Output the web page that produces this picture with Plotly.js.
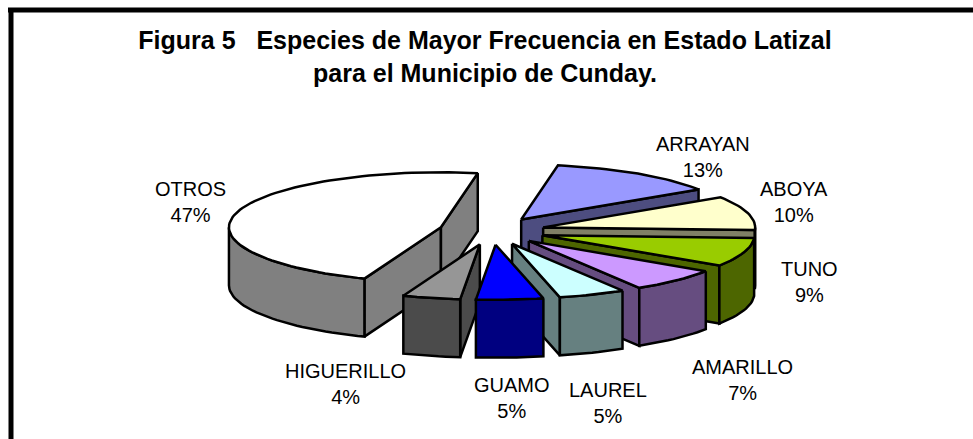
<!DOCTYPE html>
<html>
<head>
<meta charset="utf-8">
<script src="https://cdn.plot.ly/plotly-3.0.1.min.js"></script>
<style>
    html, body { margin: 0; padding: 0; background: #fff; }
    #chart { width: 973px; height: 439px; }
</style>
</head>
<body>
<div id="chart"></div>
<script>
// Chart values, in the order the slices run clockwise from the back.
// Decimals, labels show them rounded.
const labels = ['ARRAYAN', 'ABOYA', 'TUNO', 'AMARILLO', 'LAUREL', 'GUAMO', 'HIGUERILLO', 'OTROS'];
const values = [13, 10, 8.5, 7, 5.1, 5.1, 4.4, 46.9];
const topColors = ['#9999ff', '#ffffcc', '#99cc00', '#cc99ff', '#ccffff', '#0000ff', '#969696', '#ffffff'];
const wallColors = ['#4d4d80', '#808066', '#4d6600', '#664d80', '#668080', '#000080', '#4b4b4b', '#808080'];

// Label centres in pixels
const labelX = [703, 794, 809, 742, 608, 512, 345, 190];
const labelY = [157, 202, 282, 380, 403, 398, 384, 202];

// Projection of the tilted pie, in pixels
const centerX = 492;
const centerY = 231;
const radiusX = 212;
const radiusY = 55;
const depth = 58;
const explode = 0.25;
const firstAngle = 80;

function rad(deg) {
    return deg * Math.PI / 180;
}

// Point on the top rim of a pie whose apex is at (ax, ay)
function rim(ax, ay, deg) {
    return [ax + radiusX * Math.cos(rad(deg)), ay - radiusY * Math.sin(rad(deg))];
}

// Sample the rim between two angles, from -> to
function arcPoints(ax, ay, from, to) {
    const steps = Math.max(2, Math.ceil(Math.abs(to - from) / 2));
    const pts = [];
    for (let i = 0; i <= steps; i++) {
        pts.push(rim(ax, ay, from + (to - from) * i / steps));
    }
    return pts;
}

function polygonTrace(pts, color) {
    const closed = pts.concat([pts[0]]);
    return {
        x: closed.map(p => p[0]),
        y: closed.map(p => p[1]),
        type: 'scatter',
        mode: 'lines',
        fill: 'toself',
        fillcolor: color,
        line: { color: '#000000', width: 2.5, shape: 'linear' },
        hoverinfo: 'skip',
        showlegend: false
    };
}

// Walls of one slice that face the viewer, then its top face
function sliceTraces(slice) {
    const { ax, ay, start, end, top, wall } = slice;
    const traces = [];
    const down = p => [p[0], p[1] + depth];

    // radial walls, kept only when their normal points at the viewer
    [[start, start + 90], [end, end - 90]].forEach(([angle, normal]) => {
        if (Math.sin(rad(normal)) < 0) {
            const edge = rim(ax, ay, angle);
            traces.push(polygonTrace([[ax, ay], edge, down(edge), [ax, ay + depth]], wall));
        }
    });

    // outer wall: only the part of the rim on the front half
    const hi = start > 180 ? start : Math.min(start, 0);
    const lo = start > 180 ? Math.max(end, 180) : end;
    if (hi > lo) {
        const arc = arcPoints(ax, ay, hi, lo);
        traces.push(polygonTrace(arc.concat(arc.slice().reverse().map(down)), wall));
    }

    const rimPts = arcPoints(ax, ay, start, end);
    traces.push(polygonTrace([[ax, ay]].concat(rimPts), top));
    return traces;
}

function buildSlices() {
    const total = values.reduce((a, b) => a + b, 0);
    let angle = firstAngle;
    const slices = values.map((v, i) => {
        const sweep = v / total * 360;
        const start = angle;
        const end = angle - sweep;
        angle = end;
        const mid = (start + end) / 2;
        return {
            ax: centerX + explode * radiusX * Math.cos(rad(mid)),
            ay: centerY - explode * radiusY * Math.sin(rad(mid)),
            start: start,
            end: end,
            top: topColors[i],
            wall: wallColors[i]
        };
    });
    // OTROS wraps round the left side, so shift it to positive angles
    const last = slices[slices.length - 1];
    last.start += 360;
    last.end += 360;
    return slices;
}

// Paint from the back of the pie to the front
const slices = buildSlices().sort((a, b) => a.ay - b.ay);
const data = [];
slices.forEach(s => sliceTraces(s).forEach(t => data.push(t)));

const annotations = labels.map((name, i) => ({
    x: labelX[i],
    y: labelY[i],
    xref: 'x',
    yref: 'y',
    text: name + '<br>' + Math.round(values[i]) + '%',
    showarrow: false,
    xanchor: 'center',
    yanchor: 'middle',
    align: 'center',
    font: { family: 'Liberation Sans, Arial, sans-serif', size: 20, color: '#000000' }
}));

const layout = {
    width: 973,
    height: 439,
    margin: { t: 0, b: 0, l: 0, r: 0 },
    paper_bgcolor: '#ffffff',
    plot_bgcolor: '#ffffff',
    showlegend: false,
    title: {
        text: '<b>Figura 5   Especies de Mayor Frecuencia en Estado Latizal<br>para el Municipio de Cunday.</b>',
        x: 485 / 973,
        xanchor: 'center',
        xref: 'paper',
        y: 1 - 49 / 439,
        yanchor: 'top',
        yref: 'container',
        font: { family: 'Liberation Sans, Arial, sans-serif', size: 25, color: '#000000' }
    },
    xaxis: { range: [0, 973], visible: false, fixedrange: true },
    yaxis: { range: [439, 0], visible: false, fixedrange: true },
    annotations: annotations,
    shapes: [
        { type: 'line', xref: 'x', yref: 'y', x0: 8, x1: 973, y0: 10, y1: 10, line: { color: '#000000', width: 5 } },
        { type: 'line', xref: 'x', yref: 'y', x0: 11, x1: 11, y0: 8, y1: 439, line: { color: '#000000', width: 5 } }
    ]
};

Plotly.newPlot('chart', data, layout, { displayModeBar: false, staticPlot: true });
</script>
</body>
</html>
